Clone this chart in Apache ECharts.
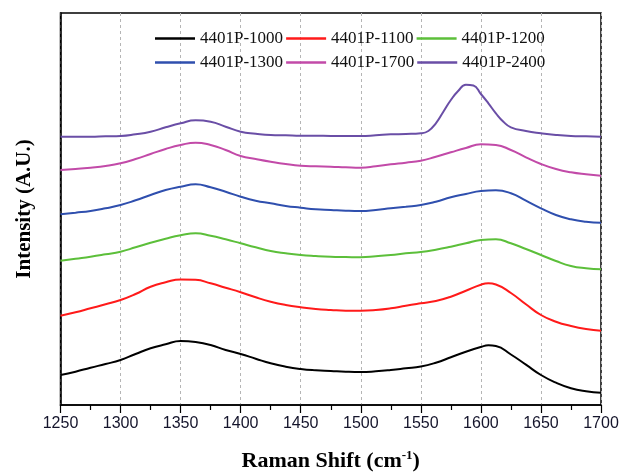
<!DOCTYPE html>
<html>
<head>
<meta charset="utf-8">
<script src="https://cdn.jsdelivr.net/npm/echarts@6/dist/echarts.min.js"></script>
<style>
  html, body { margin: 0; padding: 0; background: #fff; }
  #chart { width: 620px; height: 475px; }
</style>
</head>
<body>
<div id="chart"></div>
<script>
// Raman spectra, stacked with vertical offsets (arbitrary intensity units)
const seriesNames = ['4401P-1000', '4401P-1100', '4401P-1200', '4401P-1300', '4401P-1700', '4401P-2400'];
const seriesColors = ['#000000', '#ff1a1a', '#5cbf3a', '#2f4fae', '#c24aa8', '#6a4ea6'];

// Raman shift (cm-1) sampled every 12.5
const shiftGrid = [1250, 1262.5, 1275, 1287.5, 1300, 1312.5, 1325, 1337.5, 1350, 1362.5, 1375, 1387.5,
  1400, 1412.5, 1425, 1437.5, 1450, 1462.5, 1475, 1487.5, 1500, 1512.5, 1525, 1537.5,
  1550, 1562.5, 1575, 1587.5, 1600, 1612.5, 1625, 1637.5, 1650, 1662.5, 1675, 1687.5, 1700];

// same sampling plus the G-band maximum near 1606
const shiftGBand = [1250, 1262.5, 1275, 1287.5, 1300, 1312.5, 1325, 1337.5, 1350, 1362.5, 1375, 1387.5,
  1400, 1412.5, 1425, 1437.5, 1450, 1462.5, 1475, 1487.5, 1500, 1512.5, 1525, 1537.5,
  1550, 1562.5, 1575, 1587.5, 1600, 1606.25, 1612.5, 1625, 1637.5, 1650, 1662.5, 1675, 1687.5, 1700];

const int1000 = [30, 33.3, 37.3, 41, 45, 51, 56.7, 60.7, 64, 63, 60, 55, 51, 46.3, 41.7, 38.3, 36, 34.7, 34, 33.3,
  33, 33.7, 35, 36.7, 38.5, 42.3, 47.7, 53.3, 58, 59.7, 59, 50.5, 40.3, 30, 22.3, 16.7, 13.7, 12.3];
const int1100 = [89.3, 92.7, 96.7, 100.7, 105, 111, 118.3, 122.7, 125.6, 125.2, 121.7, 117.3, 112.8, 107.7, 103.3, 100, 97.7, 96, 95, 94.3,
  94.3, 95, 96.7, 99.3, 101.7, 104, 108.3, 114.3, 120.3, 121.7, 120.5, 112, 100.7, 90, 83.3, 79, 76, 74.3];
const int1200 = [144.3, 146.3, 148.3, 150.7, 153.3, 157.7, 162.3, 166.3, 169.7, 171.7, 169.3, 165.7, 161.7, 157.7, 154, 151.7, 150, 149, 148.3, 148,
  147.7, 148.7, 150, 151.7, 153, 155.3, 158.3, 161.7, 165, 165.7, 161.7, 156, 150, 144, 139, 136.7, 135.7];
const int1300 = [190.7, 192.3, 194, 196.7, 200, 204.7, 210, 215, 218.3, 220.7, 217.7, 213.3, 208.3, 204.3, 201.7, 199, 197.3, 195.7, 195, 194.3,
  194, 195, 196.7, 198.3, 200, 203.3, 207.7, 211, 214, 214.7, 211.7, 204.3, 196.7, 190, 185.7, 183.3, 182.3];
const int1700 = [235, 236, 237.3, 239, 241.7, 246, 251, 256, 260, 262.3, 260, 255, 249, 246, 243.3, 241, 239.3, 238.7, 238.3, 237.7,
  237.3, 238.7, 240.7, 242.3, 244.3, 248.3, 252.7, 257, 260.7, 260, 255, 247.7, 241, 236, 232.7, 230.7, 229.3];

// the 2400 sample has a sharp G band, so it is sampled more finely around 1590
const shift2400 = [1250, 1262.5, 1275, 1287.5, 1300, 1312.5, 1325, 1337.5, 1350, 1362.5, 1375, 1387.5,
  1400, 1412.5, 1425, 1437.5, 1450, 1462.5, 1475, 1487.5, 1500, 1512.5, 1525, 1537.5,
  1550, 1556.25, 1562.5, 1568.75, 1575, 1581.25, 1587.5, 1593.75, 1600, 1606.25, 1612.5, 1618.75, 1625,
  1637.5, 1650, 1662.5, 1675, 1687.5, 1700];
const int2400 = [268.3, 268.3, 268.3, 268.7, 269, 270.7, 273.3, 277.7, 281.7, 284.7, 283.3, 278.3,
  273.3, 271.3, 270, 269.7, 269.3, 269.3, 269, 269, 269, 269.7, 270.7, 271,
  271.7, 274, 281.7, 293.3, 305, 314.3, 320.3, 319.5, 311, 301.7, 291.7, 283.3, 277.7,
  274, 271.7, 270, 269, 268.7, 268.3];

const xTicks = { min: 1250, max: 1700, step: 50 };

const shifts = [shiftGBand, shiftGBand, shiftGrid, shiftGrid, shiftGrid, shift2400];
const intensities = [int1000, int1100, int1200, int1300, int1700, int2400];

const chart = echarts.init(document.getElementById('chart'), null, { renderer: 'canvas' });

const series = seriesNames.map((name, i) => ({
  name: name,
  type: 'line',
  data: shifts[i].map((x, k) => [x, intensities[i][k]]),
  smooth: 0.5,
  symbol: 'none',
  lineStyle: { color: seriesColors[i], width: 2 },
  itemStyle: { color: seriesColors[i] },
  z: 3
}));

const legendText = { fontFamily: 'Liberation Serif', fontSize: 17, color: '#111' };
const legendCommon = {
  icon: 'rect',
  itemWidth: 40, itemHeight: 2.5, itemGap: 3,
  textStyle: legendText
};

chart.setOption({
  animation: false,
  backgroundColor: '#ffffff',
  grid: {
    left: 60.5, right: 19, top: 13, bottom: 70,
    containLabel: false,
    outerBoundsMode: 'none',
    show: true, borderColor: '#000', borderWidth: 1.5, backgroundColor: 'transparent'
  },
  legend: [
    Object.assign({ data: seriesNames.slice(0, 3), left: 150, top: 25 }, legendCommon),
    Object.assign({ data: seriesNames.slice(3, 6), left: 150, top: 49 }, legendCommon)
  ],
  xAxis: {
    type: 'value',
    min: xTicks.min, max: xTicks.max, interval: xTicks.step,
    name: 'Raman Shift (cm{sup|-1})',
    nameLocation: 'middle',
    nameGap: 44,
    nameTextStyle: {
      fontFamily: 'Liberation Serif', fontSize: 22, fontWeight: 'bold', color: '#000',
      rich: {
        sup: { fontFamily: 'Liberation Serif', fontSize: 13, fontWeight: 'bold', color: '#000', verticalAlign: 'top', padding: [0, 0, 12, 0] }
      }
    },
    axisLine: { show: true, lineStyle: { color: '#000', width: 1.5 } },
    axisTick: { show: true, inside: false, length: 8, lineStyle: { color: '#000', width: 1.2 } },
    minorTick: { show: true, splitNumber: 2, length: 5, lineStyle: { color: '#000', width: 1.2 } },
    axisLabel: {
      fontFamily: 'Liberation Sans', fontSize: 16, color: '#14142b', margin: 11,
      formatter: (v) => String(v)
    },
    splitLine: { show: true, lineStyle: { color: '#b5b5b5', type: [3, 3], width: 1 } }
  },
  yAxis: {
    type: 'value',
    min: 0, max: 392,
    name: 'Intensity (A.U.)',
    nameLocation: 'middle',
    nameGap: 25,
    nameTextStyle: { fontFamily: 'Liberation Serif', fontSize: 21, fontWeight: 'bold', color: '#000' },
    axisLine: { show: true, lineStyle: { color: '#000', width: 1.5 } },
    axisTick: { show: false },
    axisLabel: { show: false },
    splitLine: { show: false }
  },
  series: series
});
</script>
</body>
</html>
